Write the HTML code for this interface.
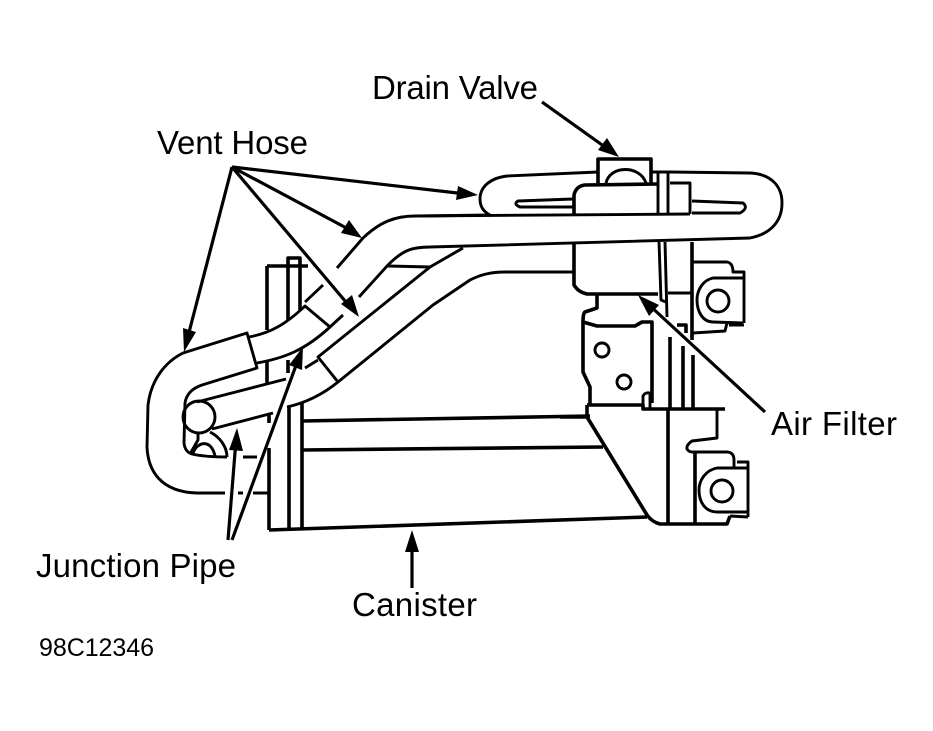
<!DOCTYPE html>
<html><head><meta charset="utf-8"><style>
html,body{margin:0;padding:0;background:#fff;width:933px;height:731px;overflow:hidden}
svg{display:block}
text{font-family:"Liberation Sans",sans-serif;font-size:33px;fill:#000}
path,circle{fill:none;stroke:#000;stroke-width:2.9;stroke-linejoin:round}
.t{stroke-width:3.6}.h{fill:#000;stroke:none}.a{stroke-width:3.2}
</style></head><body>
<svg width="933" height="731" viewBox="0 0 933 731" xmlns="http://www.w3.org/2000/svg">
<!-- left hose -->
<path d="M183 353L247 333L257 368L202 385Q187 390 185 403L184 443Q185 452 192 454Q205 457 227 457M243 457H257"/>
<path d="M183 353C165 362 151 380 148 405L147 447C148 470 160 492 197 493L225 493M238 493H243M253 493H268"/>
<path d="M249 337C270 333 285 325 305 306L330 327C305 350 285 358 257 363"/>
<path d="M305 302L323 285M330 327L343 315M305 368L318 360"/>
<!-- junction pipe -->
<path d="M197 402L286 379M212 429L273 413"/>
<circle cx="199" cy="417" r="16"/>
<path d="M198 433V440L190 454M193 453C197 442 211 438 215 456M210 432C220 437 227 447 227 457"/>
<!-- canister -->
<path class="t" d="M267 266V330M267 360V383M267 266H308M288 320V258H300V310M288 360V373"/>
<path class="t" d="M269 413V423M269 448V530M289 407V528M302 403V528"/>
<path class="t" d="M269 530L647 517M302 421L590 416M302 450L603 447"/>
<!-- second hose -->
<path d="M287 407C305 403 322 395 338 382L318 357L430 267L463 248M388 266L430 267"/>
<path d="M338 382L433 305L470 280C480 275 490 272 505 272H573"/>
<!-- main hose -->
<path d="M337 268L363 238C380 222 395 216 415 216L690 214"/>
<path d="M359 297L388 265C403 250 412 247 430 247L750 238C770 234 782 222 782 203C782 185 770 174 750 173L670 172H651"/>
<!-- upper loop -->
<path d="M598 172L507 176C490 178 480 187 480 199C480 207 484 212 490 215L420 216"/>
<path d="M573 199L518 201Q513 204 520 207L573 207M692 201L743 203Q749 208 740 213L692 213"/>
<path class="t" d="M574 244V285Q578 292 587 294H658M574 215V195Q576 186 585 185L657 184"/>
<path d="M658 173V214M668 173V214M670 183H690V214"/>
<path class="t" d="M598 183V159H651V183"/>
<path d="M606 183C610 165 640 165 646 183"/>
<!-- filter rings and posts -->
<path d="M659 242L661 300L666 302M665 242L667 317M668 293H692"/>
<path class="t" d="M692 242V340"/>
<!-- top clamp -->
<path d="M693 262H727Q733 263 733 272H744V323M743 278H713C703 280 697 290 697 300C697 312 703 322 713 322L743 323M727 323L725 331L693 333M729 325H744"/>
<circle cx="718" cy="301" r="11"/>
<!-- bracket -->
<path class="t" d="M597 295V308L585 312Q583 313 583 322L597 326H635L642 322H652V403M583 322V372L590 387V404"/>
<circle cx="602" cy="350" r="7"/><circle cx="624" cy="382" r="7"/>
<path d="M643 405V396Q645 392 650 393V408"/>
<path class="t" d="M587 405H643V409H725M587 405V417L647 515Q652 522 660 524H727L730 516M668 410V523M695 453V523"/>
<path class="t" d="M560 417H587"/>
<path d="M717 410V438L692 441Q686 445 687 449Q689 452 692 452H728Q734 453 734 460V467M737 462H748V517M747 468H717C706 470 699 480 699 490C699 503 706 512 717 512L747 512M730 516L748 517"/>
<circle cx="722" cy="491" r="11"/>
<path class="t" d="M670 337V408M683 346V408M693 355V408M677 325H686V333"/>
<!-- arrows -->
<path class="a" d="M542 102L612 152M232 167L466 194M232 167L352 231M232 167L351 308M232 167L187 340M228 540L236 440M232 540L298 360M412 588V545M765 412L648 304"/>
<path class="h" d="M619 157L598 150L607 138Z"/>
<path class="h" d="M478 195L456 200L458 186Z"/>
<path class="h" d="M362 238L341 233L349 220Z"/>
<path class="h" d="M359 317L341 304L352 295Z"/>
<path class="h" d="M184 352L183 328L196 332Z"/>
<path class="h" d="M237 428L243 451L229 450Z"/>
<path class="h" d="M303 347L302 370L289 365Z"/>
<path class="h" d="M412 530L419 552H405Z"/>
<path class="h" d="M638 295L659 305L649 316Z"/>
<!-- labels -->
<text x="372" y="99" textLength="166">Drain Valve</text>
<text x="157" y="154" textLength="151">Vent Hose</text>
<text x="771" y="435" textLength="126">Air Filter</text>
<text x="36" y="577" textLength="200">Junction Pipe</text>
<text x="352" y="616" textLength="125">Canister</text>
<text x="39" y="656" style="font-size:25px" textLength="115">98C12346</text>
</svg>
</body></html>
